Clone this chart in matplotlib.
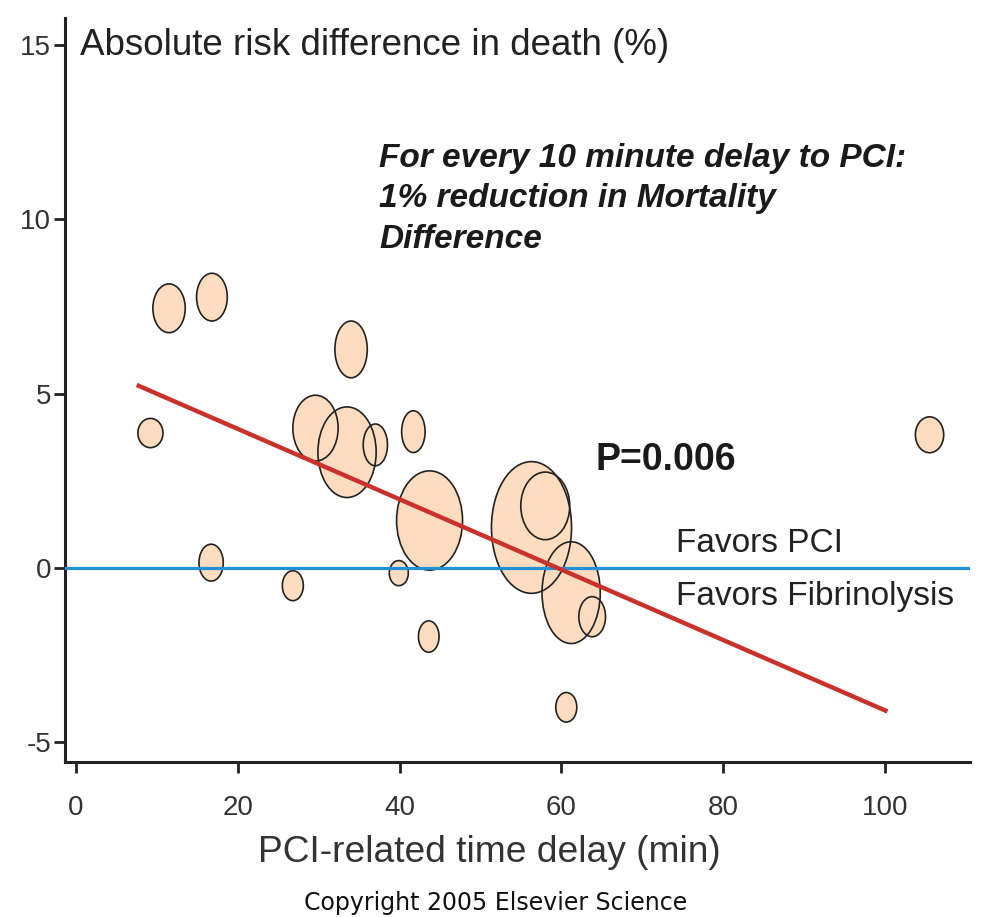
import matplotlib

matplotlib.use("Agg")
import matplotlib.pyplot as plt
from matplotlib.patches import Ellipse

# study bubbles: delay (min), risk difference (%), ellipse size
delay_min = [11.5, 16.8, 34.0, 9.2, 29.6, 33.5, 37.0, 41.7, 43.7, 16.7,
             26.8, 39.9, 43.6, 56.3, 58.0, 61.2, 63.8, 60.6, 105.5]
risk_diff = [7.45, 7.77, 6.27, 3.87, 4.01, 3.32, 3.53, 3.91, 1.36, 0.15,
             -0.51, -0.15, -1.97, 1.16, 1.78, -0.71, -1.40, -4.00, 3.82]
bubble_w = [4.0, 3.8, 4.0, 3.1, 5.6, 7.2, 3.0, 2.9, 8.15, 3.0,
            2.6, 2.35, 2.55, 9.9, 6.05, 7.2, 3.3, 2.6, 3.5]
bubble_h = [1.40, 1.37, 1.63, 0.84, 1.89, 2.6, 1.2, 1.2, 2.85, 1.06,
            0.86, 0.72, 0.9, 3.78, 1.94, 2.92, 1.15, 0.85, 1.03]

# meta-regression line end points
fit_x = [7.5, 100.3]
fit_y = [5.25, -4.12]

x_ticks = [0, 20, 40, 60, 80, 100]
y_ticks = [-5, 0, 5, 10, 15]

plt.rcParams["font.family"] = ["Liberation Sans", "DejaVu Sans"]
plt.rcParams["axes.unicode_minus"] = False

fig = plt.figure(figsize=(9.84, 9.17), dpi=100)
ax = fig.add_axes([65 / 984, 1 - 762 / 917, (970 - 65) / 984, (762 - 18) / 917])
ax.set_xlim(-1.36, 110.5)
ax.set_ylim(-5.57, 15.78)

for x, y, w, h in zip(delay_min, risk_diff, bubble_w, bubble_h):
    ax.add_patch(Ellipse((x, y), w, h, facecolor="#fddcbf", edgecolor="none", zorder=2))
for x, y, w, h in zip(delay_min, risk_diff, bubble_w, bubble_h):
    ax.add_patch(Ellipse((x, y), w, h, fill=False, edgecolor="#222222", lw=1.2, zorder=3))

ax.axhline(0, color="#1f8fd6", lw=2.3, zorder=4)
ax.plot(fit_x, fit_y, color="#c8322b", lw=3.2, solid_capstyle="butt", zorder=5)

for side in ("top", "right"):
    ax.spines[side].set_visible(False)
for side in ("left", "bottom"):
    ax.spines[side].set_linewidth(2.2)
    ax.spines[side].set_color("#222222")

ax.set_xticks(x_ticks)
ax.set_yticks(y_ticks)
ax.tick_params(axis="both", direction="out", length=8, width=2, color="#222222",
               labelsize=20, labelcolor="#333333")
ax.tick_params(axis="x", pad=16)
ax.tick_params(axis="y", pad=2)

ax.text(0.5, 15.0, "Absolute risk difference in death (%)", fontsize=26.5,
        color="#222222", va="center", ha="left")
fig.text(489 / 984, 1 - 852 / 917, "PCI-related time delay (min)", fontsize=26.7,
         color="#333333", ha="center", va="center")

ax.text(37.5, 12.2, "For every 10 minute delay to PCI:\n1% reduction in Mortality\nDifference",
        fontsize=24, fontweight="bold", fontstyle="italic", color="#1a1a1a",
        va="top", ha="left", linespacing=1.4)
ax.text(64.2, 3.1, "P=0.006", fontsize=27, fontweight="bold", color="#1a1a1a",
        va="center", ha="left")
ax.text(74.2, 0.7, "Favors PCI", fontsize=24, color="#222222", va="center", ha="left")
ax.text(74.2, -0.83, "Favors Fibrinolysis", fontsize=24, color="#222222",
        va="center", ha="left")

fig.text(496 / 984, 1 - 903 / 917, "Copyright 2005 Elsevier Science", fontsize=17,
         family="DejaVu Sans", color="#111111", ha="center", va="center")

fig.savefig("out.png", dpi=100)
